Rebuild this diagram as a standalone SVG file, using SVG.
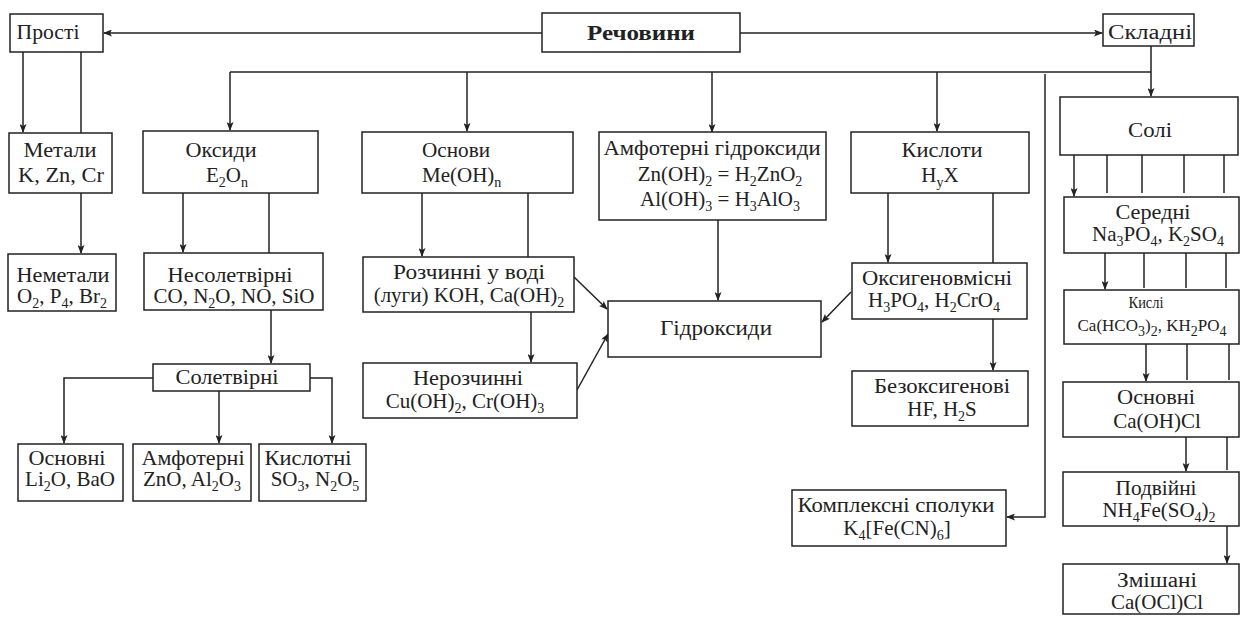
<svg xmlns="http://www.w3.org/2000/svg" width="1241" height="619" viewBox="0 0 1241 619">
<style>
.b{fill:#fff;stroke:#222;stroke-width:1.5}
.t{font-family:"Liberation Serif","Times New Roman","DejaVu Serif",serif;font-size:21px;fill:#222;text-anchor:middle}
.cy{font-size:20px}
.l{text-anchor:start}
.bd{font-weight:bold;font-size:21px}
.sm{font-size:17px}
.xs{font-size:16px}
.s{font-size:14px}
.c line,.c polyline{stroke:#222;stroke-width:1.5;fill:none}
.a{marker-end:url(#ah)}
</style>
<defs>
<marker id="ah" markerUnits="userSpaceOnUse" markerWidth="9" markerHeight="7" refX="8" refY="3.5" orient="auto">
<path d="M0,0 L9,3.5 L0,7 L2,3.5 z" fill="#222"/>
</marker>
</defs>
<rect width="1241" height="619" fill="#fff"/>
<g class="c" id="connectors">
<line class="a" x1="542" y1="33" x2="104" y2="33"/>
<line class="a" x1="740" y1="33" x2="1102" y2="33"/>
<line x1="230" y1="72" x2="1151" y2="72"/>
<line class="a" x1="1151" y1="46" x2="1151" y2="96"/>
<line class="a" x1="230" y1="72" x2="230" y2="130"/>
<line class="a" x1="467" y1="72" x2="467" y2="131"/>
<line class="a" x1="712" y1="72" x2="712" y2="132"/>
<line class="a" x1="937" y1="72" x2="937" y2="131"/>
<polyline class="a" points="1045,74 1045,517 1007,517"/>
<line class="a" x1="23" y1="52" x2="23" y2="132"/>
<line x1="81" y1="52" x2="81" y2="133"/>
<line class="a" x1="81" y1="193" x2="81" y2="253"/>
<line class="a" x1="183" y1="193" x2="183" y2="252"/>
<line x1="269" y1="193" x2="269" y2="253"/>
<line class="a" x1="271" y1="310" x2="271" y2="363"/>
<polyline class="a" points="153,378 64,378 64,443"/>
<line class="a" x1="219" y1="391" x2="219" y2="443"/>
<polyline class="a" points="310,378 332,378 332,443"/>
<line class="a" x1="422" y1="193" x2="422" y2="256"/>
<line x1="528" y1="193" x2="528" y2="257"/>
<line class="a" x1="531" y1="312" x2="531" y2="362"/>
<line class="a" x1="574" y1="277" x2="607" y2="309"/>
<line class="a" x1="577" y1="390" x2="608" y2="334"/>
<line class="a" x1="718" y1="220" x2="718" y2="300"/>
<line class="a" x1="888" y1="193" x2="888" y2="262"/>
<line x1="993" y1="193" x2="993" y2="263"/>
<line class="a" x1="993" y1="319" x2="993" y2="370"/>
<line class="a" x1="851" y1="292" x2="822" y2="322"/>
<line class="a" x1="1074" y1="155" x2="1074" y2="196"/>
<line x1="1107" y1="155" x2="1107" y2="193"/>
<line x1="1142" y1="155" x2="1142" y2="193"/>
<line x1="1184" y1="155" x2="1184" y2="193"/>
<line x1="1224" y1="155" x2="1224" y2="193"/>
<line class="a" x1="1105" y1="253" x2="1105" y2="289"/>
<line x1="1144" y1="253" x2="1144" y2="288"/>
<line x1="1186" y1="253" x2="1186" y2="288"/>
<line x1="1226" y1="253" x2="1226" y2="288"/>
<line class="a" x1="1146" y1="344" x2="1146" y2="381"/>
<line x1="1187" y1="344" x2="1187" y2="380"/>
<line x1="1229" y1="344" x2="1229" y2="380"/>
<line class="a" x1="1186" y1="437" x2="1186" y2="471"/>
<line x1="1227" y1="437" x2="1227" y2="470"/>
<line class="a" x1="1227" y1="526" x2="1227" y2="563"/>
</g>
<g id="prosti"><rect class="b" x="10" y="14" width="93" height="38"/><text class="t cy" x="48" y="39" textLength="63" lengthAdjust="spacingAndGlyphs">Прості</text></g>
<g id="rechovyny"><rect class="b" x="542" y="13" width="198" height="39"/><text class="t cy bd" x="641" y="40" textLength="108" lengthAdjust="spacingAndGlyphs">Речовини</text></g>
<g id="skladni"><rect class="b" x="1103" y="14" width="91" height="32"/><text class="t cy" x="1150" y="39" textLength="84" lengthAdjust="spacingAndGlyphs">Складні</text></g>
<g id="metaly"><rect class="b" x="9" y="133" width="103" height="60"/><text class="t cy" x="60" y="157" textLength="73" lengthAdjust="spacingAndGlyphs">Метали</text><text class="t" x="61" y="182" textLength="86" lengthAdjust="spacingAndGlyphs">K, Zn, Cr</text></g>
<g id="oksydy"><rect class="b" x="143" y="131" width="175" height="62"/><text class="t cy" x="221" y="157" textLength="71" lengthAdjust="spacingAndGlyphs">Оксиди</text><text class="t" x="227" y="182">E<tspan class="s" dy="5">2</tspan><tspan dy="-5">O</tspan><tspan class="s" dy="5">n</tspan></text></g>
<g id="osnovy"><rect class="b" x="362" y="132" width="211" height="61"/><text class="t cy l" x="422" y="157" textLength="68" lengthAdjust="spacingAndGlyphs">Основи</text><text class="t l" x="422" y="182">Me(OH)<tspan class="s" dy="5">n</tspan></text></g>
<g id="amfoterni-hidroksydy"><rect class="b" x="599" y="132" width="227" height="88"/><text class="t cy" x="712" y="155" textLength="217" lengthAdjust="spacingAndGlyphs">Амфотерні гідроксиди</text><text class="t" x="720" y="181">Zn(OH)<tspan class="s" dy="5">2</tspan><tspan dy="-5"> = H</tspan><tspan class="s" dy="5">2</tspan><tspan dy="-5">ZnO</tspan><tspan class="s" dy="5">2</tspan></text><text class="t" x="720" y="206">Al(OH)<tspan class="s" dy="5">3</tspan><tspan dy="-5"> = H</tspan><tspan class="s" dy="5">3</tspan><tspan dy="-5">AlO</tspan><tspan class="s" dy="5">3</tspan></text></g>
<g id="kysloty"><rect class="b" x="851" y="132" width="178" height="61"/><text class="t cy" x="942" y="157" textLength="81" lengthAdjust="spacingAndGlyphs">Кислоти</text><text class="t" x="940" y="182">H<tspan class="s" dy="5">y</tspan><tspan dy="-5">X</tspan></text></g>
<g id="soli"><rect class="b" x="1060" y="97" width="178" height="58"/><text class="t cy" x="1150" y="137" textLength="44" lengthAdjust="spacingAndGlyphs">Солі</text></g>
<g id="nemetaly"><rect class="b" x="8" y="254" width="108" height="57"/><text class="t cy" x="63" y="282" textLength="93" lengthAdjust="spacingAndGlyphs">Неметали</text><text class="t" x="62" y="303">O<tspan class="s" dy="5">2</tspan><tspan dy="-5">, P</tspan><tspan class="s" dy="5">4</tspan><tspan dy="-5">, Br</tspan><tspan class="s" dy="5">2</tspan></text></g>
<g id="nesoletvirni"><rect class="b" x="144" y="253" width="179" height="57"/><text class="t cy" x="230" y="282" textLength="125" lengthAdjust="spacingAndGlyphs">Несолетвірні</text><text class="t" x="234" y="303">CO, N<tspan class="s" dy="5">2</tspan><tspan dy="-5">O, NO, SiO</tspan></text></g>
<g id="soletvirni"><rect class="b" x="153" y="364" width="157" height="27"/><text class="t cy" x="227" y="384" textLength="103" lengthAdjust="spacingAndGlyphs">Солетвірні</text></g>
<g id="osnovni-oksydy"><rect class="b" x="18" y="444" width="105" height="57"/><text class="t cy" x="67" y="465" textLength="77" lengthAdjust="spacingAndGlyphs">Основні</text><text class="t" x="70" y="486">Li<tspan class="s" dy="5">2</tspan><tspan dy="-5">O, BaO</tspan></text></g>
<g id="amfoterni-oksydy"><rect class="b" x="133" y="444" width="118" height="57"/><text class="t cy" x="193" y="465" textLength="103" lengthAdjust="spacingAndGlyphs">Амфотерні</text><text class="t" x="192" y="486">ZnO, Al<tspan class="s" dy="5">2</tspan><tspan dy="-5">O</tspan><tspan class="s" dy="5">3</tspan></text></g>
<g id="kyslotni"><rect class="b" x="259" y="444" width="107" height="57"/><text class="t cy" x="308" y="465" textLength="87" lengthAdjust="spacingAndGlyphs">Кислотні</text><text class="t" x="315" y="486">SO<tspan class="s" dy="5">3</tspan><tspan dy="-5">, N</tspan><tspan class="s" dy="5">2</tspan><tspan dy="-5">O</tspan><tspan class="s" dy="5">5</tspan></text></g>
<g id="rozchynni"><rect class="b" x="363" y="257" width="211" height="55"/><text class="t cy" x="469" y="279" textLength="152" lengthAdjust="spacingAndGlyphs">Розчинні у воді</text><text class="t" x="469" y="302">(луги) KOH, Ca(OH)<tspan class="s" dy="5">2</tspan></text></g>
<g id="nerozchynni"><rect class="b" x="363" y="363" width="214" height="55"/><text class="t cy" x="468" y="385" textLength="110" lengthAdjust="spacingAndGlyphs">Нерозчинні</text><text class="t" x="465" y="408">Cu(OH)<tspan class="s" dy="5">2</tspan><tspan dy="-5">, Cr(OH)</tspan><tspan class="s" dy="5">3</tspan></text></g>
<g id="hidroksydy"><rect class="b" x="608" y="301" width="213" height="56"/><text class="t cy" x="716" y="335" textLength="112" lengthAdjust="spacingAndGlyphs">Гідроксиди</text></g>
<g id="oksyhenovmisni"><rect class="b" x="852" y="263" width="175" height="56"/><text class="t cy" x="937" y="285" textLength="150" lengthAdjust="spacingAndGlyphs">Оксигеновмісні</text><text class="t" x="934" y="307">H<tspan class="s" dy="5">3</tspan><tspan dy="-5">PO</tspan><tspan class="s" dy="5">4</tspan><tspan dy="-5">, H</tspan><tspan class="s" dy="5">2</tspan><tspan dy="-5">CrO</tspan><tspan class="s" dy="5">4</tspan></text></g>
<g id="bezoksyhenovi"><rect class="b" x="852" y="371" width="176" height="55"/><text class="t cy" x="942" y="393" textLength="136" lengthAdjust="spacingAndGlyphs">Безоксигенові</text><text class="t" x="942" y="416">HF, H<tspan class="s" dy="5">2</tspan><tspan dy="-5">S</tspan></text></g>
<g id="kompleksni"><rect class="b" x="792" y="490" width="214" height="56"/><text class="t cy" x="896" y="512" textLength="197" lengthAdjust="spacingAndGlyphs">Комплексні сполуки</text><text class="t" x="897" y="535">K<tspan class="s" dy="5">4</tspan><tspan dy="-5">[Fe(CN)</tspan><tspan class="s" dy="5">6</tspan><tspan dy="-5">]</tspan></text></g>
<g id="seredni"><rect class="b" x="1064" y="197" width="175" height="56"/><text class="t cy" x="1153" y="219" textLength="75" lengthAdjust="spacingAndGlyphs">Середні</text><text class="t" x="1158" y="241">Na<tspan class="s" dy="5">3</tspan><tspan dy="-5">PO</tspan><tspan class="s" dy="5">4</tspan><tspan dy="-5">, K</tspan><tspan class="s" dy="5">2</tspan><tspan dy="-5">SO</tspan><tspan class="s" dy="5">4</tspan></text></g>
<g id="kysli"><rect class="b" x="1064" y="290" width="175" height="54"/><text class="t xs" x="1146" y="308" textLength="35" lengthAdjust="spacingAndGlyphs">Кислі</text><text class="t sm" x="1152" y="331">Ca(HCO<tspan class="s" dy="5">3</tspan><tspan dy="-5">)</tspan><tspan class="s" dy="5">2</tspan><tspan dy="-5">, KH</tspan><tspan class="s" dy="5">2</tspan><tspan dy="-5">PO</tspan><tspan class="s" dy="5">4</tspan></text></g>
<g id="osnovni-soli"><rect class="b" x="1063" y="382" width="176" height="55"/><text class="t cy" x="1156" y="404" textLength="78" lengthAdjust="spacingAndGlyphs">Основні</text><text class="t" x="1157" y="428">Ca(OH)Cl</text></g>
<g id="podviini"><rect class="b" x="1063" y="472" width="176" height="54"/><text class="t cy" x="1156" y="495" textLength="81" lengthAdjust="spacingAndGlyphs">Подвійні</text><text class="t" x="1159" y="517">NH<tspan class="s" dy="5">4</tspan><tspan dy="-5">Fe(SO</tspan><tspan class="s" dy="5">4</tspan><tspan dy="-5">)</tspan><tspan class="s" dy="5">2</tspan></text></g>
<g id="zmishani"><rect class="b" x="1063" y="564" width="176" height="50"/><text class="t cy" x="1157" y="587" textLength="80" lengthAdjust="spacingAndGlyphs">Змішані</text><text class="t" x="1157" y="609">Ca(OCl)Cl</text></g>
</svg>
